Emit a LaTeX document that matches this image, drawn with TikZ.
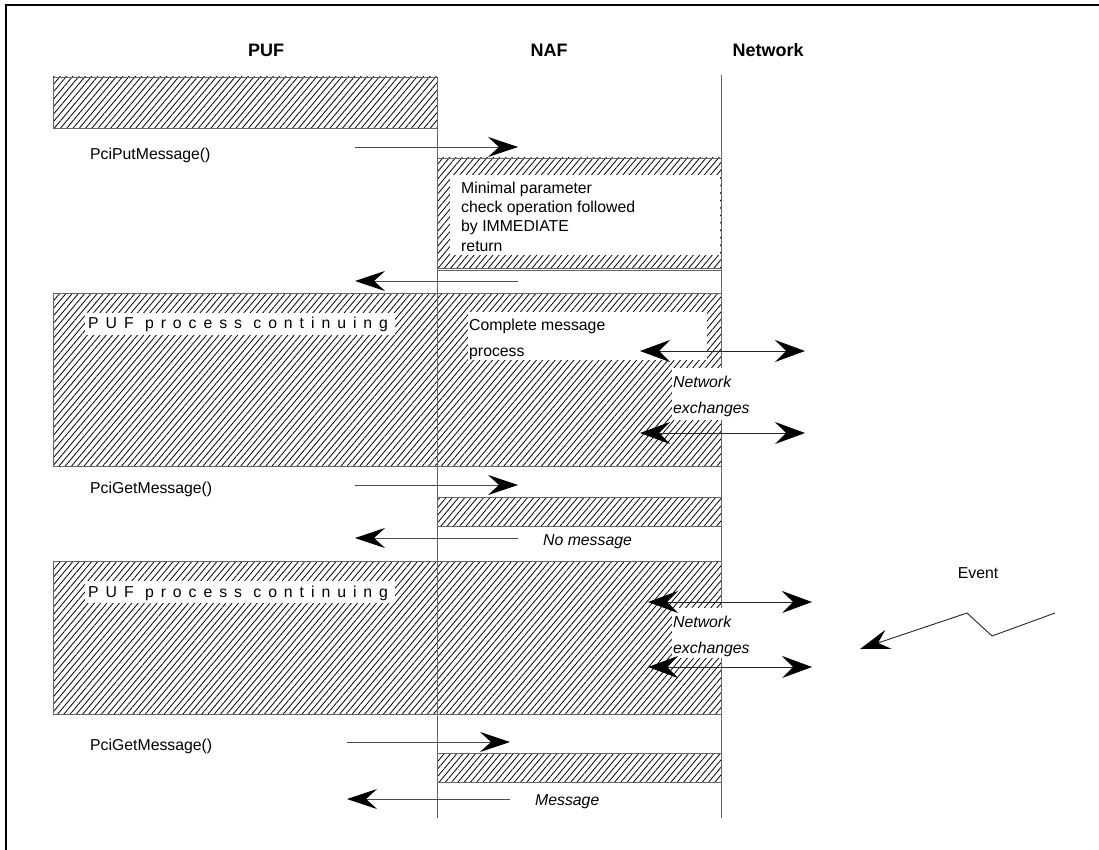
\documentclass[tikz,border=0pt]{standalone}
\usepackage{fontspec}
\setmainfont{Liberation Sans}
\usetikzlibrary{arrows.meta,patterns.meta}

\begin{document}
\begin{tikzpicture}[x=1pt,y=-1pt,
  hatch/.style={draw=black!60, line width=0.8pt,
    pattern={Lines[angle=50,distance=4.8pt,line width=0.8pt]}, pattern color=black},
  life/.style={draw=black!60, line width=0.8pt},
  msg/.style={draw=black!70, line width=0.9pt, -{Stealth[length=30pt,width=20pt,inset=11pt,color=black]}},
  xchg/.style={draw=black!85, line width=0.9pt,
    {Stealth[length=30pt,width=22pt,inset=11pt,color=black]}-{Stealth[length=30pt,width=22pt,inset=11pt,color=black]}},
  mask/.style={fill=white, inner sep=0pt, anchor=north west},
  lbl/.style={font=\fontsize{15.8}{19.3}\selectfont, inner sep=0pt, anchor=base west},
  blk/.style={inner sep=0pt, anchor=north west, align=left},
  spaced/.style={font=\fontsize{15.8}{19}\selectfont\addfontfeature{LetterSpace=44}, inner sep=0pt, anchor=base west},
  head/.style={font=\fontsize{18}{21}\selectfont\bfseries, inner sep=0pt},
]
\useasboundingbox (0,0) rectangle (1099,850);

% page frame (top and left edges only)
\draw[line width=2.5pt] (1099,5) -- (6,5) -- (6,850);

% column headings
\node[head] (hpuf) at (266,50) {PUF};
\node[head] (hnaf) at (549,50) {NAF};
\node[head] (hnet) at (768,50) {Network};

% activity blocks
\draw[hatch] (53,77) rectangle (437,128);
\draw[hatch] (437,158) rectangle (721,268);
\draw[life] (437,270) -- (721,270);
\draw[hatch] (53,293) rectangle (437,466);
\draw[hatch] (437,293) rectangle (721,466);
\draw[hatch] (437,497) rectangle (721,526);
\draw[hatch] (53,561) rectangle (437,714);
\draw[hatch] (437,561) rectangle (721,714);
\draw[hatch] (437,753) rectangle (721,782);

% lifelines
\coordinate (l1t) at (437,128); \coordinate (l1b) at (437,818);
\coordinate (l2t) at (721,75);  \coordinate (l2b) at (721,818);
\draw[life] (l1t) -- (l1b);
\draw[life] (l2t) -- (l2b);

% white text areas over the hatching
\node[mask, minimum width=269.5, minimum height=80] (m1) at (450,175) {};
\node[mask, minimum width=310, minimum height=22] (m2) at (85,313) {};
\node[mask, minimum width=239, minimum height=48] (m3) at (468,312) {};
\node[mask, minimum width=90, minimum height=52] (m4) at (672,368) {};
\node[mask, minimum width=310, minimum height=22] (m5) at (85,581) {};
\node[mask, minimum width=90, minimum height=50] (m6) at (672,608) {};

% texts
\node[blk, font=\fontsize{15.8}{19.3}\selectfont] (t1) at (461,181.7)
  {Minimal parameter\\check operation followed\\by IMMEDIATE\\return};
\node[spaced] (t2) at (88,328) {PUF process continuing};
\node[blk, font=\fontsize{15.8}{26}\selectfont] (t3) at (469,318.5)
  {Complete message\\process};
\node[blk, font=\fontsize{15.8}{26}\selectfont\itshape] (t4) at (673,375.7)
  {Network\\exchanges};
\node[spaced] (t5) at (88,597) {PUF process continuing};
\node[blk, font=\fontsize{15.8}{26}\selectfont\itshape] (t6) at (673,615.7)
  {Network\\exchanges};

\node[lbl] (c1) at (90,160) {PciPutMessage()};
\node[lbl] (c2) at (90,493) {PciGetMessage()};
\node[lbl] (c3) at (90,750) {PciGetMessage()};
\node[lbl, font=\fontsize{15.8}{19}\selectfont\itshape] (r2) at (543,545) {No message};
\node[lbl, font=\fontsize{15.8}{19}\selectfont\itshape] (r3) at (535,805) {Message};
\node[lbl, anchor=center] (ev) at (978,573) {Event};

% message arrows
\coordinate (a1s) at (355,147); \coordinate (a1e) at (518,147);
\coordinate (a2s) at (518,281); \coordinate (a2e) at (355,281);
\coordinate (a3s) at (355,485); \coordinate (a3e) at (518,485);
\coordinate (a4s) at (518,538); \coordinate (a4e) at (355,538);
\coordinate (a5s) at (347,742); \coordinate (a5e) at (510,742);
\coordinate (a6s) at (510,799); \coordinate (a6e) at (347,799);
\draw[msg] (a1s) -- (a1e);
\draw[msg] (a2s) -- (a2e);
\draw[msg] (a3s) -- (a3e);
\draw[msg] (a4s) -- (a4e);
\draw[msg] (a5s) -- (a5e);
\draw[msg] (a6s) -- (a6e);

% network exchanges
\coordinate (x1a) at (640,351); \coordinate (x1b) at (805,351);
\coordinate (x2a) at (640,433); \coordinate (x2b) at (805,433);
\coordinate (x3a) at (648,602); \coordinate (x3b) at (812,602);
\coordinate (x4a) at (648,667); \coordinate (x4b) at (812,667);
\draw[xchg] (x1a) -- (x1b);
\draw[xchg] (x2a) -- (x2b);
\draw[xchg] (x3a) -- (x3b);
\draw[xchg] (x4a) -- (x4b);

% incoming event
\coordinate (e0) at (1055,613);
\coordinate (e1) at (992,636);
\coordinate (e2) at (967,613);
\coordinate (e3) at (860,649);
\draw[msg, draw=black!85] (e0) -- (e1) -- (e2) -- (e3);
\end{tikzpicture}
\end{document}
